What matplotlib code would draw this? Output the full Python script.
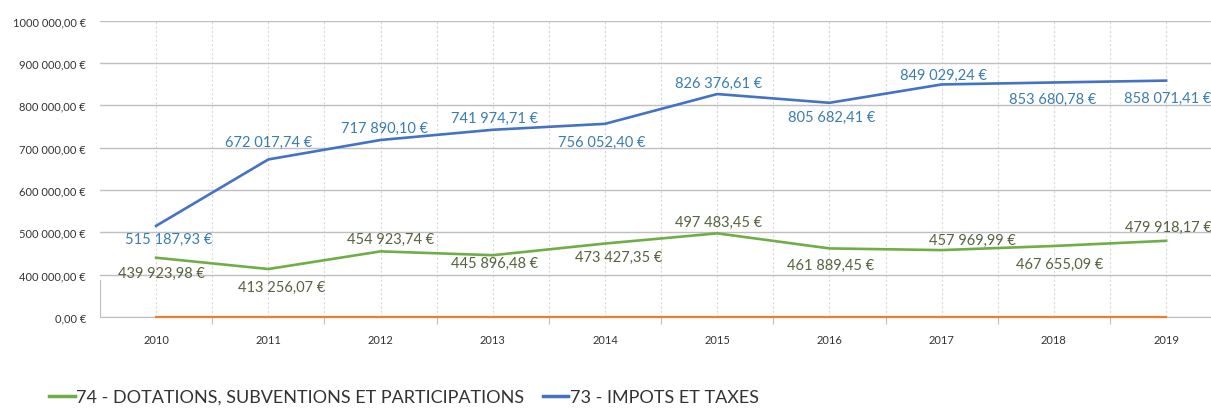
import matplotlib.pyplot as plt
import numpy as np
from matplotlib.ticker import FixedLocator

plt.rcParams['font.family'] = ['Lato', 'DejaVu Sans']

years = [2010, 2011, 2012, 2013, 2014, 2015, 2016, 2017, 2018, 2019]
impots = [515187.93, 672017.74, 717890.10, 741974.71, 756052.40,
          826376.61, 805682.41, 849029.24, 853680.78, 858071.41]
dotations = [439923.98, 413256.07, 454923.74, 445896.48, 473427.35,
             497483.45, 461889.45, 457969.99, 467655.09, 479918.17]
autre = [0, 0, 0, 0, 0, 0, 0, 0, 0, 0]

yticks = [0, 400000, 500000, 600000, 700000, 800000, 900000, 1000000]
ytick_labels = ['0,00 €', '400 000,00 €', '500 000,00 €', '600 000,00 €',
                '700 000,00 €', '800 000,00 €', '900 000,00 €', '1000 000,00 €']

# label offsets in pixels (dx, dy) - excel places them above/below
imp_off = [(13, -13), (0, 18), (4, 12), (2, 12), (-3, -18),
           (1, 11), (2, -14), (2, 10), (-1, -16), (2, -17)]
dot_off = [(5, -15), (13, -18), (10, 12), (2, -8), (14, -13),
           (1, 11), (1, -16), (31, 10), (6, -18), (2, 14)]

BLUE = '#4472C4'
GREEN = '#70AD47'
ORANGE = '#ED7D31'


def fwd(y):
    y = np.asarray(y, dtype=float)
    return np.where(y >= 400000, y, 300000 + y / 4)


def inv(t):
    t = np.asarray(t, dtype=float)
    return np.where(t >= 400000, t, (t - 300000) * 4)


def fr(v):
    return f"{v:,.2f}".replace(',', ' ').replace('.', ',') + ' €'


fig = plt.figure(figsize=(12.11, 4.10), dpi=100)
ax = fig.add_axes([100 / 1211, 1 - 318 / 410, 1 - 100 / 1211, (318 - 21.5) / 410])
ax.set_yscale('function', functions=(fwd, inv))

ax.plot(years, dotations, color=GREEN, lw=1.9, label='74 - DOTATIONS, SUBVENTIONS ET PARTICIPATIONS', zorder=3)
ax.plot(years, impots, color=BLUE, lw=1.9, label='73 - IMPOTS ET TAXES', zorder=3)
ax.plot(years, autre, color=ORANGE, lw=1.6, zorder=3, clip_on=False)

for x, v, (dx, dy) in zip(years, impots, imp_off):
    ax.annotate(fr(v), (x, v), xytext=(dx, dy), textcoords='offset pixels',
                ha='center', va='center', fontsize=10.5, color='#3A7DB4')
for x, v, (dx, dy) in zip(years, dotations, dot_off):
    ax.annotate(fr(v), (x, v), xytext=(dx, dy), textcoords='offset pixels',
                ha='center', va='center', fontsize=10.5, color='#56633F')

ax.set_xlim(2009.5, 2019.4)
ax.set_ylim(0, 1000000)
ax.yaxis.set_major_locator(FixedLocator(yticks))
ax.set_yticklabels(ytick_labels)
ax.set_xticks(years)
ax.set_xticks(np.arange(2010.5, 2019.5, 1), minor=True)
ax.tick_params(axis='y', length=0, labelsize=8, labelcolor='#333333', pad=10)
ax.tick_params(axis='x', which='major', length=0, labelsize=8, labelcolor='#333333', pad=12)
ax.tick_params(axis='x', which='minor', length=5, color='#BFBFBF', width=0.8)

ax.grid(axis='y', color='#BFBFBF', lw=1.0)
ax.grid(axis='x', which='both', color='#D9D9D9', lw=0.8, ls=(0, (2, 2)))
ax.set_axisbelow(True)

for s in ['top', 'right']:
    ax.spines[s].set_visible(False)
ax.spines['bottom'].set_color('#BFBFBF')
ax.spines['left'].set_color('#BFBFBF')
ax.spines['left'].set_bounds(0, 352000)

leg = fig.legend(loc='center left', bbox_to_anchor=(33 / 1211, 1 - 398 / 410), ncol=2,
                 frameon=False, fontsize=13, handlelength=1.4, handletextpad=0.1,
                 columnspacing=1.0, labelcolor='#333333')
for h in leg.legend_handles:
    h.set_linewidth(2.5)

fig.savefig('out.png', dpi=100)
